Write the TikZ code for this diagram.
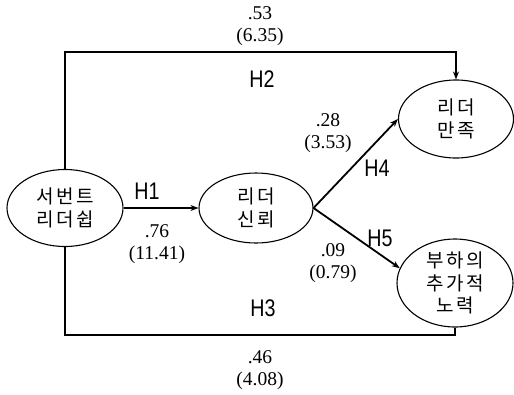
\documentclass[tikz,border=0pt]{standalone}
\usepackage{fontspec}
\setmainfont{Liberation Serif}
\newfontfamily\kr[LetterSpace=12]{Noto Sans CJK KR}
\newfontfamily\hfont[FakeStretch=0.82]{Liberation Sans}
\usetikzlibrary{shapes.geometric,arrows.meta}
\begin{document}
\begin{tikzpicture}[x=1pt,y=-1pt,
  var/.style={ellipse,draw,line width=1.1pt,inner sep=0pt,align=center,
    font={\kr\fontsize{19}{23}\selectfont}},
  path/.style={line width=1.8pt},
  arr/.style={path,-{Stealth[length=8pt,width=6pt]}},
  coef/.style={align=center,font={\fontsize{19.5}{22}\selectfont}},
  hyp/.style={font={\hfont\fontsize{24}{24}\selectfont}}]
\useasboundingbox (0,0) rectangle (514,394);
\node[var,minimum width=116pt,minimum height=77pt] (serv) at (65,208) {서번트\\리더쉽};
\node[var,minimum width=114pt,minimum height=70pt] (trust) at (256,208) {리더\\신뢰};
\node[var,minimum width=115pt,minimum height=78pt] (sat) at (456,119) {리더\\만족};
\node[var,minimum width=116pt,minimum height=77pt,font={\kr\fontsize{19}{22.5}\selectfont}] (eff) at (455,283) {부하의\\추가적\\노력};
\coordinate (toprow) at (0,52);
\coordinate (botrow) at (0,335);
\draw[arr] (serv.east) -- (trust.west);
\draw[arr] (serv.north) -- (serv.north |- toprow) -| (sat.north);
\draw[path] (serv.south) -- (serv.south |- botrow) -| (eff.south);
\draw[arr] (trust.east) -- (sat.west);
\draw[arr] (trust.east) -- (eff.165);
\node[coef] (c53) at (260,26) {.53\\(6.35)};
\node[coef] (c28) at (328,133) {.28\\(3.53)};
\node[coef] (c76) at (157,244) {.76\\(11.41)};
\node[coef] (c09) at (333,263) {.09\\(0.79)};
\node[coef] (c46) at (260,370) {.46\\(4.08)};
\node[hyp] (h2) at (262,79) {H2};
\node[hyp] (h4) at (377,168) {H4};
\node[hyp] (h1) at (147,191) {H1};
\node[hyp] (h5) at (380,238) {H5};
\node[hyp] (h3) at (263,308) {H3};
\end{tikzpicture}
\end{document}
